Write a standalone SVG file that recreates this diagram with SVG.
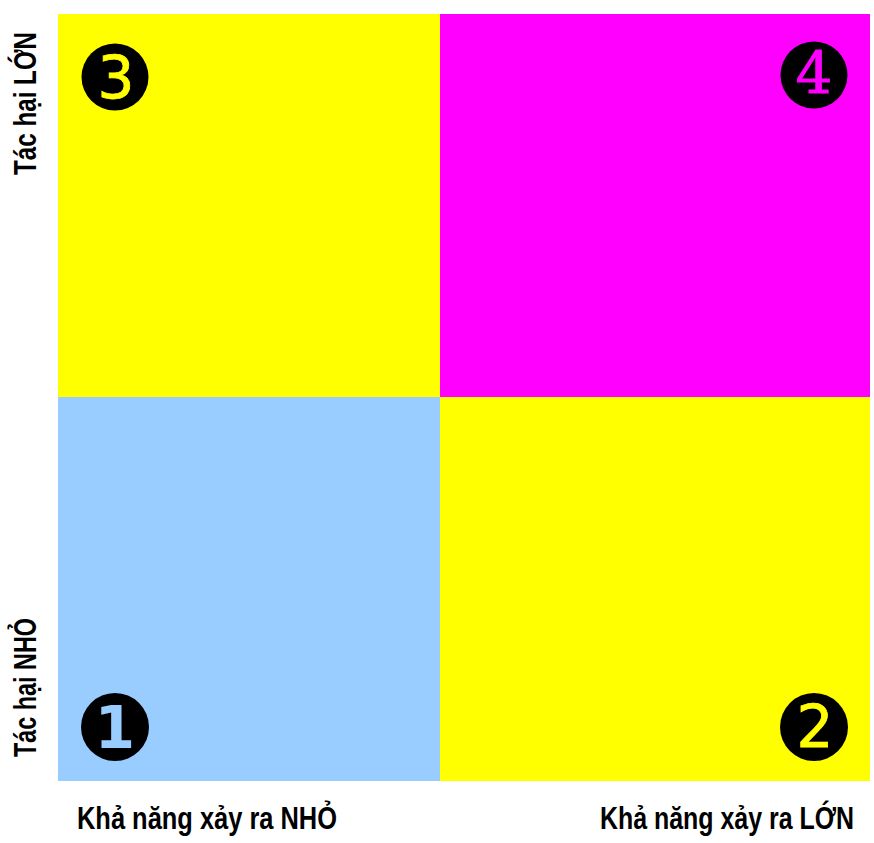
<svg xmlns="http://www.w3.org/2000/svg" width="874" height="843" viewBox="0 0 874 843">
<style>
.lbl{font-family:"Liberation Sans",Arial,sans-serif;font-weight:bold;font-size:31px;fill:#000}
.num{font-family:"DejaVu Sans",sans-serif;font-size:58px;text-anchor:middle;stroke-width:0.8}
.dot{fill:#000}
</style>
<rect width="874" height="843" fill="#fff"/>
<g id="q3"><rect x="58" y="14" width="382" height="383" fill="#ffff00"/>
<circle class="dot" cx="115" cy="77" r="33.5"/><text class="num" x="116" y="98" fill="#ffff00" stroke="#ffff00">3</text></g>
<g id="q4"><rect x="440" y="14" width="430" height="383" fill="#ff00ff"/>
<circle class="dot" cx="814" cy="75" r="33.5"/><text class="num" x="814" y="93" fill="#ff00ff" stroke="#ff00ff" style="font-family:'DejaVu Serif',serif">4</text></g>
<g id="q1"><rect x="58" y="397" width="382" height="384" fill="#99ccff"/>
<circle class="dot" cx="115" cy="727" r="34"/><text class="num" x="115" y="748" fill="#99ccff" font-weight="bold" style="stroke-width:0">1</text></g>
<g id="q2"><rect x="440" y="397" width="430" height="384" fill="#ffff00"/>
<circle class="dot" cx="814" cy="727" r="34"/><text class="num" x="815" y="747" fill="#ffff00" stroke="#ffff00">2</text></g>
<g id="labels">
<text class="lbl" transform="translate(36,175) rotate(-90)" textLength="143" lengthAdjust="spacingAndGlyphs">Tác hại LỚN</text>
<text class="lbl" transform="translate(36,757) rotate(-90)" textLength="139" lengthAdjust="spacingAndGlyphs">Tác hại NHỎ</text>
<text class="lbl" x="77" y="829" textLength="260" lengthAdjust="spacingAndGlyphs">Khả năng xảy ra NHỎ</text>
<text class="lbl" x="600" y="829" textLength="254" lengthAdjust="spacingAndGlyphs">Khả năng xảy ra LỚN</text>
</g>
<g id="connectors"></g>
</svg>
